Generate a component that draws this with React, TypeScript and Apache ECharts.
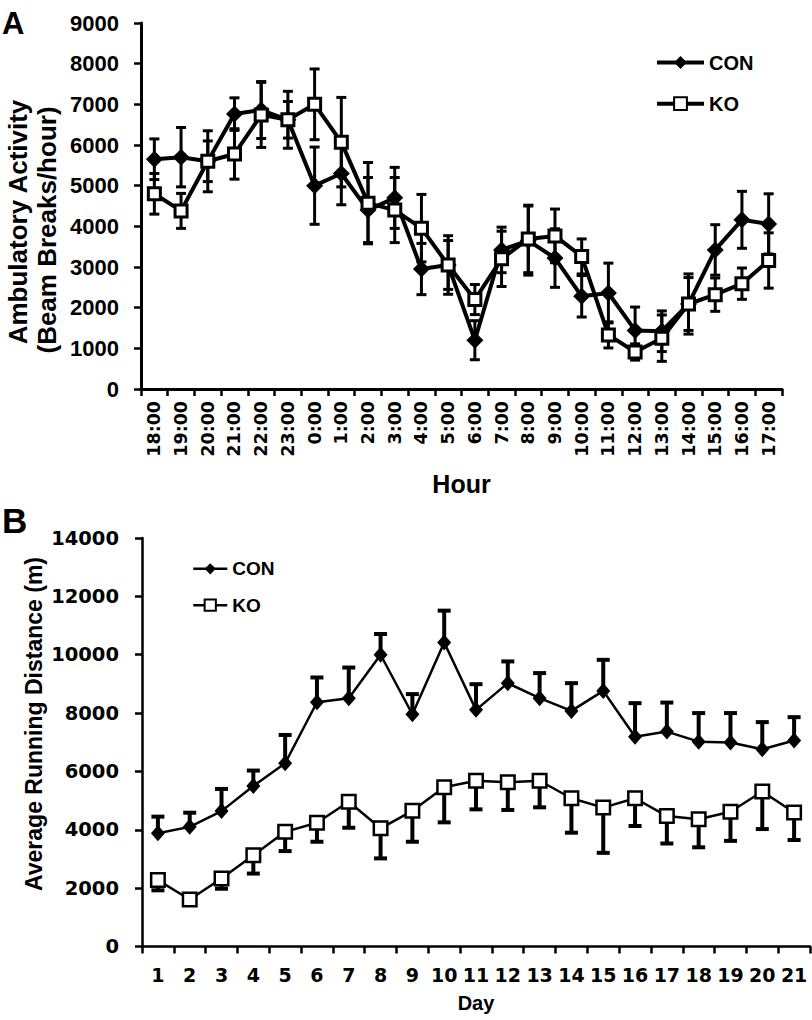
import React, { useEffect, useRef } from "react";
import * as echarts from "echarts";

// ---------- Panel A data ----------
const hours = [
  "18:00", "19:00", "20:00", "21:00", "22:00", "23:00", "0:00", "1:00",
  "2:00", "3:00", "4:00", "5:00", "6:00", "7:00", "8:00", "9:00",
  "10:00", "11:00", "12:00", "13:00", "14:00", "15:00", "16:00", "17:00",
];
const conA = [5650, 5700, 5600, 6760, 6860, 6620, 5000, 5300, 4400, 4700, 2950, 3050, 1200, 3420, 3650, 3220, 2280, 2360, 1440, 1420, 2090, 3420, 4160, 4060];
const conASe = [500, 730, 750, 400, 700, 700, 950, 770, 800, 750, 630, 720, 480, 560, 850, 720, 510, 735, 575, 500, 740, 620, 700, 740];
const koA = [4800, 4380, 5600, 5780, 6740, 6620, 7000, 6070, 4570, 4400, 3955, 3050, 2200, 3200, 3690, 3765, 3260, 1330, 910, 1250, 2090, 2320, 2590, 3160];
const koASe = [500, 430, 500, 620, 800, 450, 870, 1100, 1000, 800, 830, 600, 370, 680, 830, 660, 430, 320, 200, 570, 650, 410, 385, 680];
const yTicksA = { min: 0, max: 9000, interval: 1000 };

// ---------- Panel B data ----------
const days = ["1", "2", "3", "4", "5", "6", "7", "8", "9", "10", "11", "12", "13", "14", "15", "16", "17", "18", "19", "20", "21"];
const conB = [3880, 4100, 4640, 5500, 6280, 8370, 8510, 10000, 7960, 10420, 8110, 9025, 8510, 8075, 8760, 7190, 7365, 7020, 6990, 6760, 7060];
const conBSe = [570, 485, 760, 530, 970, 850, 1050, 710, 690, 1090, 880, 745, 860, 950, 1065, 1150, 995, 980, 1010, 930, 800];
const koB = [2275, 1610, 2330, 3130, 3930, 4240, 4960, 4050, 4650, 5460, 5680, 5630, 5680, 5080, 4760, 5080, 4470, 4360, 4620, 5310, 4590];
const koBSe = [350, 150, 350, 630, 660, 650, 890, 1030, 1060, 1205, 980, 950, 910, 1180, 1550, 950, 940, 960, 1000, 1285, 940];
const yTicksB = { min: 0, max: 14000, interval: 2000 };

const LIB = "'Liberation Sans', Arial, sans-serif";
const DJV = "'DejaVu Sans', sans-serif";

function errRender(capW: number, lw: number, capLw: number) {
  return (params: any, api: any) => {
    const x = api.value(0);
    const lo = api.value(1);
    const hi = api.value(2);
    const capLo = api.value(3);
    const capHi = api.value(4);
    const pLo = api.coord([x, lo]);
    const pHi = api.coord([x, hi]);
    const children: any[] = [
      { type: "line", shape: { x1: pLo[0], y1: pLo[1], x2: pHi[0], y2: pHi[1] }, style: { stroke: "#000", lineWidth: lw } },
    ];
    if (capLo) children.push({ type: "line", shape: { x1: pLo[0] - capW / 2, y1: pLo[1], x2: pLo[0] + capW / 2, y2: pLo[1] }, style: { stroke: "#000", lineWidth: capLw } });
    if (capHi) children.push({ type: "line", shape: { x1: pHi[0] - capW / 2, y1: pHi[1], x2: pHi[0] + capW / 2, y2: pHi[1] }, style: { stroke: "#000", lineWidth: capLw } });
    return { type: "group", children };
  };
}

function errData(vals: number[], se: number[], mode: "both" | "up" | "down") {
  return vals.map((v, i) => {
    if (mode === "up") return [i, v, v + se[i], 0, 1];
    if (mode === "down") return [i, v - se[i], v, 1, 0];
    return [i, v - se[i], v + se[i], 1, 1];
  });
}

export default function App() {
  const ref = useRef<HTMLDivElement>(null);
  useEffect(() => {
    if (!ref.current) return;
    const chart = echarts.init(ref.current, null, { renderer: "svg" });
    const axisLineA = { show: true, lineStyle: { color: "#000", width: 3 } };
    const axisTickA = { show: true, inside: false, length: 7, lineStyle: { color: "#000", width: 2.5 } };
    const axisLineB = { show: true, lineStyle: { color: "#000", width: 2.5 } };
    const axisTickB = { show: true, inside: false, length: 7, lineStyle: { color: "#000", width: 2.5 } };
    const plain = (v: number) => String(v);
    const option: any = {
      animation: false,
      backgroundColor: "#fff",
      grid: [
        { left: 141, top: 23, width: 641, height: 366 },
        { left: 142, top: 538, width: 668, height: 408.5 },
      ],
      xAxis: [
        {
          type: "category", gridIndex: 0, data: hours, boundaryGap: true,
          axisLine: axisLineA, axisTick: axisTickA, splitLine: { show: false },
          axisLabel: { rotate: 90, margin: 12, color: "#000", fontFamily: DJV, fontWeight: "bold", fontSize: 17.5, interval: 0 },
          name: "Hour", nameLocation: "middle", nameGap: 82,
          nameTextStyle: { color: "#000", fontFamily: LIB, fontWeight: "bold", fontSize: 25 },
        },
        {
          type: "category", gridIndex: 1, data: days, boundaryGap: true,
          axisLine: axisLineB, axisTick: axisTickB, splitLine: { show: false },
          axisLabel: { margin: 19, color: "#000", fontFamily: DJV, fontWeight: "bold", fontSize: 19, interval: 0 },
          name: "Day", nameLocation: "middle", nameGap: 46,
          nameTextStyle: { color: "#000", fontFamily: LIB, fontWeight: "bold", fontSize: 20 },
        },
      ],
      yAxis: [
        {
          type: "value", gridIndex: 0, ...yTicksA,
          axisLine: axisLineA, axisTick: axisTickA, splitLine: { show: false },
          axisLabel: { margin: 22, color: "#000", fontFamily: LIB, fontWeight: "bold", fontSize: 22, formatter: plain },
        },
        {
          type: "value", gridIndex: 1, ...yTicksB,
          axisLine: axisLineB, axisTick: axisTickB, splitLine: { show: false },
          axisLabel: { margin: 23, color: "#000", fontFamily: DJV, fontWeight: "bold", fontSize: 19.5, formatter: plain },
        },
      ],
      legend: [
        {
          orient: "vertical", left: 655, top: 52.5, padding: 0, itemWidth: 47, itemHeight: 16, itemGap: 21.2,
          data: ["CON_A", "KO_A"], selectedMode: false,
          formatter: (n: string) => n.split("_")[0],
          lineStyle: { width: 4 },
          textStyle: { color: "#000", fontFamily: LIB, fontWeight: "bold", fontSize: 20 },
        },
        {
          orient: "vertical", left: 192, top: 559.3, padding: 0, itemWidth: 34, itemHeight: 14, itemGap: 17.4,
          data: ["CON_B", "KO_B"], selectedMode: false,
          formatter: (n: string) => n.split("_")[0],
          lineStyle: { width: 2.5 },
          textStyle: { color: "#000", fontFamily: LIB, fontWeight: "bold", fontSize: 19 },
        },
      ],
      graphic: [
        { type: "text", left: 2, top: 8, style: { text: "A", font: `bold 31px ${LIB}`, fill: "#000" } },
        { type: "text", left: 2, top: 503, style: { text: "B", font: `bold 35px ${LIB}`, fill: "#000" } },
        { type: "text", x: 18, y: 222, rotation: Math.PI / 2, style: { text: "Ambulatory Activity", font: `bold 26px ${LIB}`, fill: "#000", textAlign: "center", textVerticalAlign: "middle" } },
        { type: "text", x: 47, y: 230, rotation: Math.PI / 2, style: { text: "(Beam Breaks/hour)", font: `bold 26px ${LIB}`, fill: "#000", textAlign: "center", textVerticalAlign: "middle" } },
        { type: "text", x: 34, y: 724, rotation: Math.PI / 2, style: { text: "Average Running Distance (m)", font: `bold 23px ${LIB}`, fill: "#000", textAlign: "center", textVerticalAlign: "middle" } },
      ],
      series: [
        { name: "errCON_A", type: "custom", xAxisIndex: 0, yAxisIndex: 0, z: 1, renderItem: errRender(10, 3, 3), data: errData(conA, conASe, "both"), encode: { x: 0, y: [1, 2] } },
        { name: "errKO_A", type: "custom", xAxisIndex: 0, yAxisIndex: 0, z: 1, renderItem: errRender(10, 3, 3), data: errData(koA, koASe, "both"), encode: { x: 0, y: [1, 2] } },
        {
          name: "CON_A", type: "line", xAxisIndex: 0, yAxisIndex: 0, z: 3, data: conA,
          symbol: "diamond", symbolSize: [17, 17],
          lineStyle: { color: "#000", width: 4 }, itemStyle: { color: "#000", borderColor: "#000", borderWidth: 0 },
        },
        {
          name: "KO_A", type: "line", xAxisIndex: 0, yAxisIndex: 0, z: 4, data: koA,
          symbol: "rect", symbolSize: 12,
          lineStyle: { color: "#000", width: 4 }, itemStyle: { color: "#fff", borderColor: "#000", borderWidth: 3 },
        },
        { name: "errCON_B", type: "custom", xAxisIndex: 1, yAxisIndex: 1, z: 1, renderItem: errRender(13, 4, 4), data: errData(conB, conBSe, "up"), encode: { x: 0, y: [1, 2] } },
        { name: "errKO_B", type: "custom", xAxisIndex: 1, yAxisIndex: 1, z: 1, renderItem: errRender(13, 4, 4), data: errData(koB, koBSe, "down"), encode: { x: 0, y: [1, 2] } },
        {
          name: "CON_B", type: "line", xAxisIndex: 1, yAxisIndex: 1, z: 3, data: conB,
          symbol: "diamond", symbolSize: [14, 16],
          lineStyle: { color: "#000", width: 2.5 }, itemStyle: { color: "#000", borderColor: "#000", borderWidth: 0 },
        },
        {
          name: "KO_B", type: "line", xAxisIndex: 1, yAxisIndex: 1, z: 4, data: koB,
          symbol: "rect", symbolSize: 13.5,
          lineStyle: { color: "#000", width: 2.5 }, itemStyle: { color: "#fff", borderColor: "#000", borderWidth: 2.5 },
        },
      ],
    };
    chart.setOption(option);
    return () => chart.dispose();
  }, []);
  return <div ref={ref} style={{ position: "fixed", left: 0, top: 0, width: 812, height: 1020, background: "#fff" }} />;
}
